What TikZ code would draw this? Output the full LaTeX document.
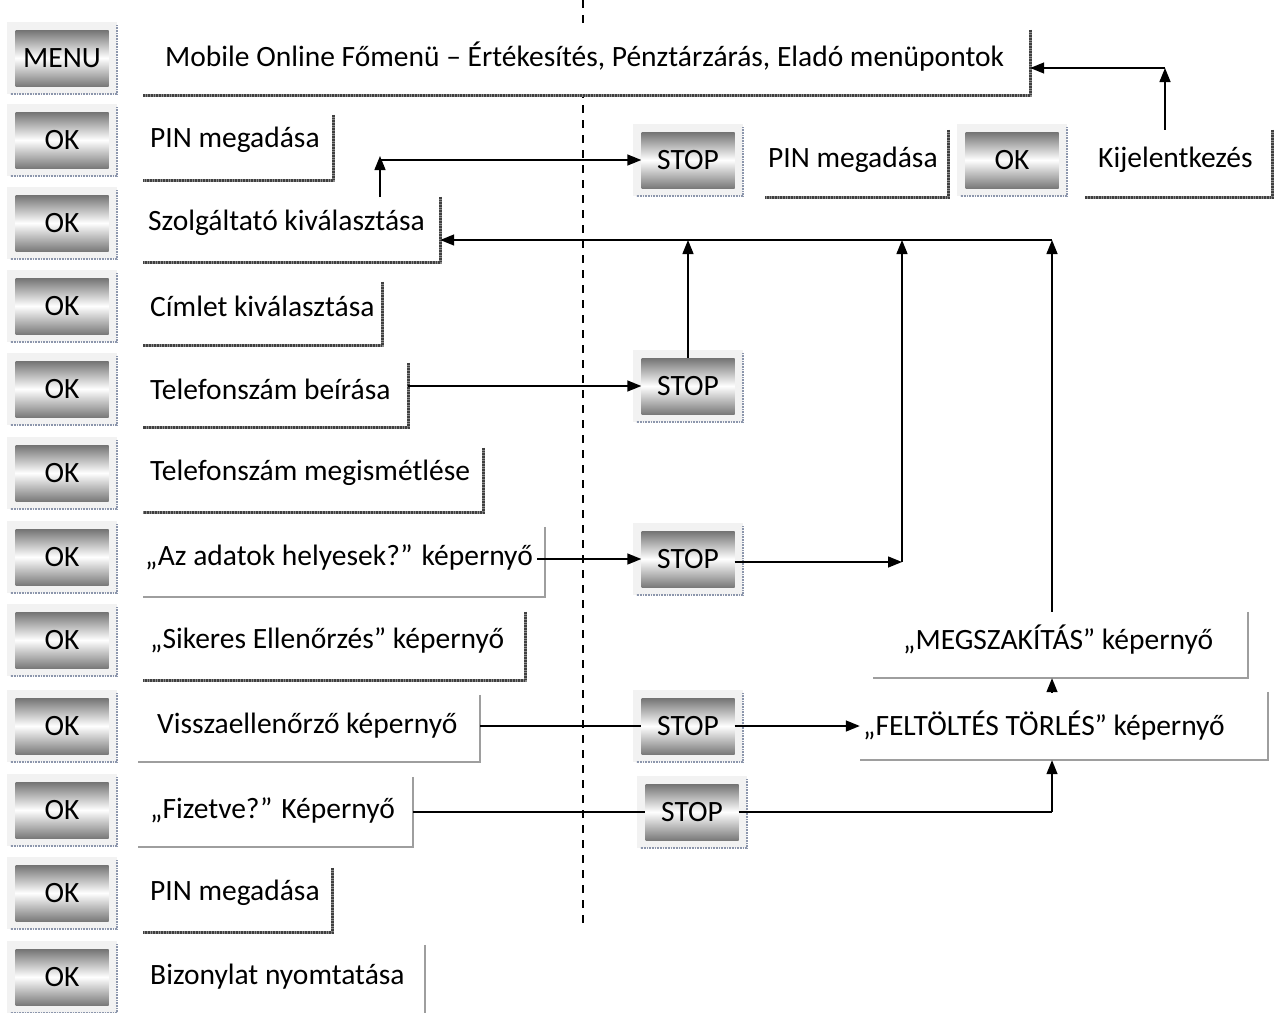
\documentclass[tikz,border=0pt]{standalone}
\usepackage{fontspec}
\setmainfont{Carlito}
\usetikzlibrary{arrows.meta,fit}
\definecolor{edgeblue}{RGB}{140,150,172}
\tikzset{
 btn/.style={minimum width=93pt,minimum height=56pt,inner sep=0pt,top color=black!55,bottom color=black!52,middle color=white,font=\fontsize{29.5}{32}\selectfont},
 btnframe/.style={fill=black!5},
 btnedge/.style={draw=edgeblue,line width=2pt,dash pattern=on 1pt off 0.6pt},
 frame/.style={inner sep=0pt,draw=none},
 lbl/.style={anchor=west,inner sep=0pt,font=\fontsize{29.5}{32}\selectfont},
 hatch/.style={line width=3.2pt,draw=black!45},
 hatchdots/.style={line width=3.2pt,draw=black!75,dash pattern=on 0.8pt off 0.8pt},
 plain/.style={line width=2.4pt,draw=black!38},
 arr/.style={line width=1.4pt,-{Triangle[length=14pt,width=11pt]}},
 ln/.style={line width=1.4pt},
 sep/.style={line width=1.3pt,dash pattern=on 8pt off 7pt},
}
\newcommand\mkbtn[4]{%
 \fill[btnframe] (#2-55,#3-36) rectangle (#2+55,#3+36);
 \draw[btnedge] (#2+55,#3-33) -- (#2+55,#3+36) -- (#2-52,#3+36);
 \node[btn] (#1) at (#2,#3) {#4};}
\newcommand\hframe[5]{%
 \node[frame,fit={(#2,#3) (#4,#5)}] (#1) {};
 \draw[hatch] (#1.north east) -- (#1.south east) -- (#1.south west);
 \draw[hatchdots] (#1.north east) -- (#1.south east) -- (#1.south west);}
\newcommand\gframe[5]{%
 \node[frame,fit={(#2,#3) (#4,#5)}] (#1) {};
 \draw[plain] (#1.north east) -- (#1.south east) -- (#1.south west);}
\begin{document}
\begin{tikzpicture}[x=1pt,y=-1pt]
\useasboundingbox[fill=white] (0,0) rectangle (1274,1012);
% separator
\coordinate (d1) at (583,0);
\coordinate (d2) at (583,925);
\draw[sep] (d1) -- (d2);
% frames
\fill[white] (143,30) rectangle (1030,95);
\hframe{F0}{143}{30}{1030}{95}
\hframe{F1}{143}{115}{333}{180}
\hframe{F2}{143}{197}{440}{262}
\hframe{F3}{143}{282}{382}{345}
\hframe{F4}{143}{363}{408}{427}
\hframe{F5}{143}{448}{483}{512}
\gframe{F6}{143}{527}{545}{597}
\hframe{F7}{143}{612}{525}{680}
\gframe{F8}{138}{695}{480}{762}
\gframe{F9}{138}{777}{413}{847}
\hframe{F10}{143}{868}{332}{932}
\gframe{F11}{143}{945}{425}{1040}
\hframe{R1}{765}{130}{948}{197}
\hframe{R2}{1085}{130}{1272}{197}
\gframe{M}{873}{612}{1248}{678}
\gframe{FT}{860}{692}{1268}{760}
% labels
\node[lbl] (t0) at (165,57) {Mobile Online Főmenü – Értékesítés, Pénztárzárás, Eladó menüpontok};
\node[lbl] (t1) at (150,140) {PIN megadása};
\node[lbl] (t2) at (148,223) {Szolgáltató kiválasztása};
\node[lbl] (t3) at (150,306) {Címlet kiválasztása};
\node[lbl] (t4) at (150,389) {Telefonszám beírása};
\node[lbl] (t5) at (150,473) {Telefonszám megismétlése};
\node[lbl] (t6) at (145,557) {„Az adatok helyesek?” képernyő};
\node[lbl] (t7) at (150,640) {„Sikeres Ellenőrzés” képernyő};
\node[lbl] (t8) at (157,726) {Visszaellenőrző képernyő};
\node[lbl] (t9) at (150,810) {„Fizetve?” Képernyő};
\node[lbl] (t10) at (150,893) {PIN megadása};
\node[lbl] (t11) at (150,977) {Bizonylat nyomtatása};
\node[lbl] (r1) at (768,160) {PIN megadása};
\node[lbl] (r2) at (1098,160) {Kijelentkezés};
\node[lbl] (m) at (903,640) {„MEGSZAKÍTÁS” képernyő};
\node[lbl] (ft) at (863,726) {„FELTÖLTÉS TÖRLÉS” képernyő};
% buttons
\mkbtn{B0}{62}{58}{MENU}
\mkbtn{B1}{62}{140}{OK}
\mkbtn{B2}{62}{223}{OK}
\mkbtn{B3}{62}{306}{OK}
\mkbtn{B4}{62}{389}{OK}
\mkbtn{B5}{62}{473}{OK}
\mkbtn{B6}{62}{557}{OK}
\mkbtn{B7}{62}{640}{OK}
\mkbtn{B8}{62}{726}{OK}
\mkbtn{B9}{62}{810}{OK}
\mkbtn{B10}{62}{893}{OK}
\mkbtn{B11}{62}{977}{OK}
\mkbtn{S1}{688}{160}{STOP}
\mkbtn{S2}{1012}{160}{OK}
\mkbtn{S3}{688}{386}{STOP}
\mkbtn{S4}{688}{559}{STOP}
\mkbtn{S5}{688}{726}{STOP}
\mkbtn{S6}{692}{812}{STOP}
% connectors
\coordinate (k1) at (1165,68);
\draw[arr] (R2.north -| k1) -- (k1);
\draw[arr] (k1) -- (F0.east |- k1);
\coordinate (c1) at (380,160);
\draw[arr] (F2.north -| c1) -- ([yshift=4pt]c1);
\draw[arr] (c1) -- (S1.west);
\coordinate (j1) at (1052,240);
\draw[arr] (j1) -- (F2.east |- j1);
\draw[arr] (S3.north) -- (S3.north |- j1);
\coordinate (j2) at (902,562);
\draw[arr] (j2) -- (j2 |- j1);
\draw[arr] (S4.east |- j2) -- (j2);
\draw[arr] (F4.east |- S3) -- (S3.west);
\draw[arr] ([xshift=-8pt]F6.east |- S4) -- (S4.west);
\draw[arr] (M.north -| j1) -- (j1);
\draw[arr] (FT.north -| j1) -- (M.south -| j1);
\draw[ln] (F8.east |- S5) -- (S5.west);
\draw[arr] (S5.east) -- (FT.west |- S5);
\coordinate (j3) at (1052,812);
\draw[ln] (F9.east |- S6) -- (S6.west);
\draw[ln] (S6.east) -- (j3);
\draw[arr] (j3) -- (FT.south -| j3);
\end{tikzpicture}
\end{document}
